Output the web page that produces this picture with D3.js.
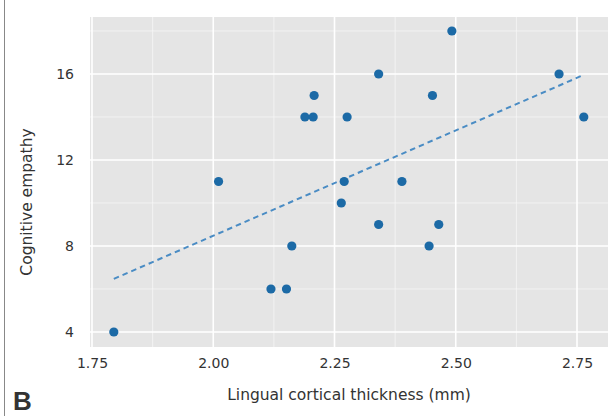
<!DOCTYPE html>
<html>
<head>
<meta charset="utf-8">
<script src="https://cdn.jsdelivr.net/npm/d3@7"></script>
<style>
	body { margin: 0; background: #fff; }
	svg text { font-family: "DejaVu Sans", "Liberation Sans", sans-serif; fill: #333; }
</style>
</head>
<body>
<script>
// lingual cortical thickness (mm) and cognitive empathy score
const thickness = [2.011, 2.189, 2.206, 2.208, 2.276, 2.341, 2.452, 2.492, 2.713, 2.764,
	2.270, 2.389, 2.264, 2.341, 2.465, 2.445, 2.162, 2.119, 2.151, 1.795];
const empathy = [11, 14, 14, 15, 14, 16, 15, 18, 16, 14,
	11, 11, 10, 9, 9, 8, 8, 6, 6, 4];

// fitted line, end points
const fitX = [1.795, 2.762];
const fitY = [6.47, 15.94];

const xTicks = [1.75, 2.00, 2.25, 2.50, 2.75];
const xMinor = [1.875, 2.125, 2.375, 2.625];
const yTicks = [4, 8, 12, 16];
const yMinor = [6, 10, 14, 18];

const width = 614;
const height = 416;
const panel = { left: 90, right: 608, top: 17, bottom: 347 };

const svg = d3.select('body')
	.append('svg')
	.attr('width', width)
	.attr('height', height);

const xScale = d3.scaleLinear()
	.domain([1.7459, 2.8139])
	.range([panel.left, panel.right]);

const yScale = d3.scaleLinear()
	.domain([3.302, 18.651])
	.range([panel.bottom, panel.top]);

// grey panel
svg.append('rect')
	.attr('x', panel.left)
	.attr('y', panel.top)
	.attr('width', panel.right - panel.left)
	.attr('height', panel.bottom - panel.top)
	.attr('fill', '#e5e5e5');

const grid = svg.append('g');

grid.selectAll('.xminor')
	.data(xMinor).enter().append('line')
	.attr('x1', d => xScale(d)).attr('x2', d => xScale(d))
	.attr('y1', panel.top).attr('y2', panel.bottom)
	.attr('stroke', '#f6f6f6').attr('stroke-width', 0.8);

grid.selectAll('.yminor')
	.data(yMinor).enter().append('line')
	.attr('y1', d => yScale(d)).attr('y2', d => yScale(d))
	.attr('x1', panel.left).attr('x2', panel.right)
	.attr('stroke', '#f6f6f6').attr('stroke-width', 0.8);

grid.selectAll('.xmajor')
	.data(xTicks).enter().append('line')
	.attr('x1', d => xScale(d)).attr('x2', d => xScale(d))
	.attr('y1', panel.top).attr('y2', panel.bottom)
	.attr('stroke', '#fff').attr('stroke-width', 1.6);

grid.selectAll('.ymajor')
	.data(yTicks).enter().append('line')
	.attr('y1', d => yScale(d)).attr('y2', d => yScale(d))
	.attr('x1', panel.left).attr('x2', panel.right)
	.attr('stroke', '#fff').attr('stroke-width', 1.6);

// axes (no domain line, no ticks, only labels)
const xAxis = svg.append('g')
	.attr('transform', 'translate(0,' + panel.bottom + ')')
	.call(d3.axisBottom(xScale).tickValues(xTicks).tickFormat(d3.format('.2f')).tickSize(0).tickPadding(11));

const yAxis = svg.append('g')
	.attr('transform', 'translate(' + panel.left + ',0)')
	.call(d3.axisLeft(yScale).tickValues(yTicks).tickSize(0).tickPadding(16));

[xAxis, yAxis].forEach(function(a) {
	a.select('.domain').remove();
	a.selectAll('text')
		.style('font-family', '"DejaVu Sans", "Liberation Sans", sans-serif')
		.style('font-size', '14px')
		.attr('fill', '#333');
});

// regression line
svg.append('line')
	.attr('x1', xScale(fitX[0])).attr('y1', yScale(fitY[0]))
	.attr('x2', xScale(fitX[1])).attr('y2', yScale(fitY[1]))
	.attr('stroke', '#4a8cc4')
	.attr('stroke-width', 2)
	.attr('stroke-dasharray', '5.5,4');

// points
svg.selectAll('circle')
	.data(thickness)
	.enter()
	.append('circle')
	.attr('cx', d => xScale(d))
	.attr('cy', (d, i) => yScale(empathy[i]))
	.attr('r', 4.6)
	.attr('fill', '#1c6aa6');

// titles
svg.append('text')
	.attr('x', (panel.left + panel.right) / 2)
	.attr('y', 400)
	.attr('text-anchor', 'middle')
	.style('font-size', '15.5px')
	.text('Lingual cortical thickness (mm)');

svg.append('text')
	.attr('transform', 'translate(32,202) rotate(-90)')
	.attr('text-anchor', 'middle')
	.style('font-size', '15.5px')
	.text('Cognitive empathy');

// panel letter and left rule
svg.append('line')
	.attr('x1', 4.5).attr('x2', 4.5)
	.attr('y1', 0).attr('y2', height)
	.attr('stroke', '#888').attr('stroke-width', 1);

svg.append('text')
	.attr('x', 13)
	.attr('y', 410)
	.style('font-family', '"Liberation Sans", Arial, sans-serif')
	.style('font-size', '26px')
	.style('font-weight', 'bold')
	.attr('fill', '#222')
	.text('B');
</script>
</body>
</html>
